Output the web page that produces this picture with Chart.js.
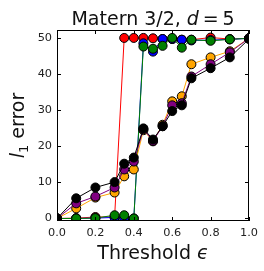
<!DOCTYPE html>
<html>
<head>
<meta charset="utf-8">
<script src="https://cdn.jsdelivr.net/npm/chart.js@4.4.1/dist/chart.umd.min.js"></script>
<style>
  html, body { margin: 0; padding: 0; background: #fff; }
</style>
</head>
<body>
<canvas id="errChart" width="264" height="271"></canvas>
<script>
const thresholds = [0, 0.1, 0.2, 0.3, 0.35, 0.4, 0.45, 0.5, 0.55, 0.6, 0.65, 0.7, 0.8, 0.9, 1.0];

const redErr    = [0, 0.1, 0.4, 0.4, 50.1, 50.1, 50.1, 50.0, 49.8, 49.8, 49.6, 49.6, 50.2, 49.8, 50.0];
const blueErr   = [0, 0.0, 0.1, 0.3, 0.0, 0.0, 48.6, 46.3, 49.8, 49.8, 49.6, 49.4, 49.5, 49.7, 50.0];
const greenErr  = [0, 0.0, 0.1, 0.9, 0.9, 0.0, 47.7, 47.1, 47.9, 50.1, 47.4, 49.6, 49.3, 49.7, 50.0];
const orangeErr = [0, 2.8, 5.8, 7.2, 11.7, 13.6, 24.5, 21.4, 26.0, 32.5, 33.9, 42.8, 44.7, 46.4, 50.0];
const purpleErr = [0, 4.2, 6.1, 8.6, 13.6, 15.8, 24.8, 21.5, 25.6, 31.4, 32.0, 39.4, 42.8, 46.1, 50.0];
const blackErr  = [0, 5.6, 8.6, 10.1, 15.2, 16.9, 25.0, 21.9, 25.6, 29.8, 31.4, 38.9, 41.7, 44.7, 49.8];

const xTicks = [0, 0.2, 0.4, 0.6, 0.8, 1.0];
const yTicks = [0, 10, 20, 30, 40, 50];

const ctx = document.getElementById('errChart').getContext('2d');

const makeSet = (values, color, order) => ({
    data: thresholds.map((t, i) => ({ x: t, y: values[i] })),
    borderColor: color,
    backgroundColor: color,
    borderWidth: 1,
    pointRadius: 4.5,
    pointBorderColor: '#000',
    pointBorderWidth: 1,
    pointBackgroundColor: color,
    tension: 0,
    clip: 0,
    order: order
});

// draws a row of text pieces (different fonts) centred on cx
const drawRuns = (c, runs, cx, baseline) => {
    let total = 0;
    runs.forEach(r => { c.font = r.font; total += c.measureText(r.text).width; });
    let x = cx - total / 2;
    runs.forEach(r => {
        c.font = r.font;
        c.fillText(r.text, x, baseline + (r.dy || 0));
        x += c.measureText(r.text).width;
    });
};

const framePlugin = {
    id: 'frame',
    afterDraw(chart) {
        const c = chart.ctx;
        const a = chart.chartArea;
        const sx = chart.scales.x;
        const sy = chart.scales.y;
        c.save();
        c.strokeStyle = '#000';
        c.lineWidth = 1;
        c.strokeRect(a.left + 0.5, a.top + 0.5, a.right - a.left - 1, a.bottom - a.top - 1);
        c.beginPath();
        xTicks.forEach(v => {
            const px = Math.round(sx.getPixelForValue(v)) + 0.5;
            c.moveTo(px, a.bottom); c.lineTo(px, a.bottom - 4);
            c.moveTo(px, a.top); c.lineTo(px, a.top + 4);
        });
        yTicks.forEach(v => {
            const py = Math.round(sy.getPixelForValue(v)) + 0.5;
            c.moveTo(a.left, py); c.lineTo(a.left + 4, py);
            c.moveTo(a.right, py); c.lineTo(a.right - 4, py);
        });
        c.stroke();

        c.fillStyle = '#111';
        c.textBaseline = 'alphabetic';
        c.textAlign = 'left';
        const f = '19px "DejaVu Sans"';
        const fi = 'oblique 19px "DejaVu Sans"';
        drawRuns(c, [
            { text: 'Matern 3/2, ', font: f },
            { text: 'd', font: fi },
            { text: '\u2009=\u2009', font: f },
            { text: '5', font: f }
        ], (a.left + a.right) / 2, 25);

        drawRuns(c, [
            { text: 'Threshold ', font: f },
            { text: '\u03F5', font: fi }
        ], (a.left + a.right) / 2, 259);

        c.translate(24, (a.top + a.bottom) / 2);
        c.rotate(-Math.PI / 2);
        drawRuns(c, [
            { text: 'l', font: fi },
            { text: '1', font: '13px "DejaVu Sans"', dy: 4 },
            { text: ' error', font: f }
        ], 0, 0);
        c.restore();
    }
};

new Chart(ctx, {
    type: 'line',
    data: {
        datasets: [
            makeSet(redErr, '#ff0000', 5),
            makeSet(blueErr, '#0000ff', 4),
            makeSet(greenErr, '#008000', 3),
            makeSet(orangeErr, '#ffa500', 2),
            makeSet(purpleErr, '#800080', 1),
            makeSet(blackErr, '#000000', 0)
        ]
    },
    options: {
        responsive: false,
        animation: false,
        layout: { padding: { top: 30, right: 15, left: 0, bottom: 0 } },
        plugins: {
            legend: { display: false },
            tooltip: { enabled: false },
            title: { display: false }
        },
        scales: {
            x: {
                type: 'linear',
                min: 0,
                max: 1,
                grid: { display: false, drawTicks: false },
                border: { display: false },
                afterBuildTicks: scale => { scale.ticks = xTicks.map(v => ({ value: v })); },
                afterFit: scale => { scale.height = 50; },
                ticks: {
                    padding: 5,
                    color: '#222',
                    font: { family: 'DejaVu Sans', size: 11.3 },
                    callback: v => v.toFixed(1),
                    maxRotation: 0
                }
            },
            y: {
                type: 'linear',
                min: -0.7,
                max: 52.3,
                grid: { display: false, drawTicks: false },
                border: { display: false },
                afterBuildTicks: scale => { scale.ticks = yTicks.map(v => ({ value: v })); },
                afterFit: scale => { scale.width = 57; },
                ticks: {
                    padding: 5,
                    color: '#222',
                    font: { family: 'DejaVu Sans', size: 11.3 },
                    callback: v => String(v)
                }
            }
        }
    },
    plugins: [framePlugin]
});
</script>
</body>
</html>
